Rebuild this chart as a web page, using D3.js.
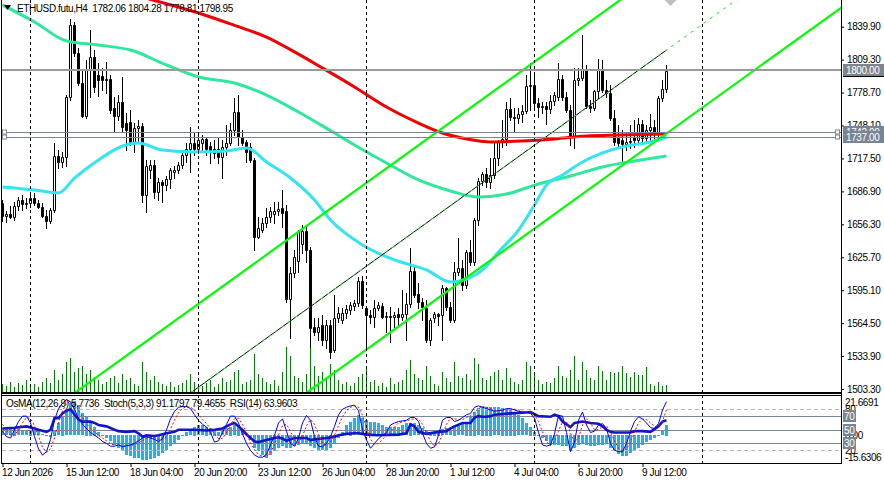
<!DOCTYPE html>
<html>
<head>
<meta charset="utf-8">
<script src="https://cdn.jsdelivr.net/npm/d3@7"></script>
<style>
  body { margin: 0; background: #fff; }
  svg text { font-family: "Liberation Sans", Arial, sans-serif; font-size: 10px; letter-spacing: -0.4px; fill: #000; white-space: pre; }
</style>
</head>
<body>
<div id="chart"></div>
<script>
// ETHUSD.futu H4 candles (bar 0 = 12 Jun 20:00)
const opens = [1676.1,1664.0,1665.9,1663.1,1673.3,1678.9,1675.2,1675.8,1680.8,1676.1,1672.4,1664.0,1659.4,1669.6,1719.8,1714.2,1718.8,1774.6,1841.5,1815.5,
  1787.6,1756.9,1800.6,1811.7,1795.0,1794.1,1790.4,1791.3,1764.4,1756.9,1769.9,1750.4,1751.4,1732.8,1745.8,1747.6,1683.5,1706.8,1711.4,1686.3,
  1695.6,1692.8,1698.4,1704.9,1706.8,1711.4,1720.7,1726.3,1731.9,1726.3,1731.5,1735.6,1729.1,1726.3,1726.3,1718.8,1728.1,1731.9,1743.9,1760.7,
  1737.4,1732.8,1728.1,1716.1,1644.5,1651.0,1657.5,1663.1,1665.9,1668.7,1671.5,1668.7,1586.9,1611.1,1622.0,1638.0,1650.1,1632.4,1560.9,1556.3,
  1562.8,1548.8,1562.8,1539.5,1569.3,1567.4,1573.9,1576.7,1580.4,1583.2,1603.7,1578.6,1572.1,1570.2,1578.6,1580.4,1570.2,1570.7,1570.2,1573.0,
  1570.2,1573.0,1582.3,1612.9,1591.6,1584.1,1578.6,1548.8,1569.3,1573.0,1572.1,1597.1,1579.5,1567.4,1612.0,1615.7,1599.9,1630.6,1621.3,1660.3,
  1696.6,1703.0,1695.6,1702.1,1717.9,1732.8,1735.6,1763.4,1756.0,1755.1,1758.8,1761.6,1784.8,1785.7,1769.0,1765.3,1766.2,1763.4,1770.9,1774.6,
  1791.3,1774.6,1762.5,1737.4,1790.4,1792.2,1800.6,1766.2,1764.4,1780.2,1800.6,1781.1,1778.3,1755.1,1736.5,1734.6,1730.9,1732.8,1737.4,1734.6,
  1749.5,1736.5,1743.9,1746.7,1741.1,1773.7,1782.06];
const highs = [1678.9,1668.7,1673.3,1677.0,1681.7,1683.5,1680.8,1685.4,1685.4,1678.9,1676.1,1669.6,1671.5,1731.9,1725.3,1723.5,1776.4,1847.0,1844.3,1820.1,
  1799.7,1809.0,1836.8,1818.2,1806.2,1801.5,1807.1,1795.0,1774.6,1776.4,1793.2,1759.7,1762.5,1750.4,1753.2,1750.4,1716.1,1716.1,1716.1,1699.3,
  1697.5,1701.2,1708.6,1710.5,1714.2,1725.3,1731.9,1746.7,1741.1,1741.1,1739.3,1736.5,1732.8,1734.6,1736.5,1734.6,1748.6,1750.4,1773.7,1776.4,
  1743.9,1734.6,1731.9,1717.9,1663.1,1662.2,1671.5,1672.4,1677.0,1677.0,1688.2,1674.3,1616.7,1632.4,1651.0,1655.7,1653.8,1635.2,1569.3,1569.3,
  1572.1,1567.4,1567.4,1590.6,1579.5,1578.6,1581.4,1584.1,1586.0,1607.4,1608.3,1580.4,1576.7,1586.0,1584.1,1583.2,1574.9,1579.5,1574.9,1578.6,
  1595.3,1592.5,1634.3,1616.7,1601.8,1587.9,1586.0,1569.3,1574.9,1573.9,1599.9,1598.0,1584.1,1621.3,1643.6,1623.2,1632.4,1641.7,1662.2,1699.3,
  1704.9,1708.6,1717.9,1731.9,1734.6,1753.2,1769.9,1773.7,1764.4,1764.4,1767.2,1795.0,1806.2,1796.9,1773.7,1769.9,1769.9,1776.4,1779.2,1806.2,
  1795.0,1779.2,1767.2,1801.5,1801.5,1832.2,1804.3,1771.8,1781.1,1809.9,1809.0,1790.4,1785.7,1762.5,1748.6,1743.9,1742.1,1748.6,1753.2,1755.1,
  1753.2,1748.6,1758.8,1753.2,1775.5,1790.4,1804.28];
const lows = [1659.4,1658.5,1662.2,1660.3,1669.6,1669.6,1671.5,1672.4,1674.3,1671.5,1663.1,1652.9,1657.5,1667.7,1708.6,1709.6,1710.5,1771.8,1812.7,1785.7,
  1756.0,1755.1,1774.6,1779.2,1775.5,1781.1,1778.3,1759.7,1742.1,1753.2,1742.1,1725.3,1730.0,1723.5,1733.7,1677.0,1667.7,1699.3,1680.8,1678.9,
  1677.0,1688.2,1690.0,1699.3,1704.0,1708.6,1714.2,1704.9,1720.7,1722.6,1725.3,1720.7,1713.3,1717.9,1713.3,1699.3,1720.7,1730.0,1739.3,1730.0,
  1730.0,1714.2,1714.2,1632.4,1643.6,1649.2,1653.8,1658.5,1657.5,1665.0,1653.8,1584.1,1550.7,1607.4,1612.0,1629.7,1621.3,1542.3,1553.5,1548.8,
  1544.2,1541.4,1532.1,1537.7,1565.6,1564.6,1569.3,1573.0,1576.7,1580.4,1578.6,1541.4,1564.6,1560.9,1576.7,1569.3,1556.3,1547.0,1560.9,1562.8,
  1567.4,1548.8,1579.5,1588.8,1578.6,1567.4,1547.0,1544.2,1565.6,1562.8,1548.8,1576.7,1565.6,1565.6,1609.2,1595.3,1597.1,1618.5,1618.5,1655.7,
  1692.8,1691.0,1690.0,1699.3,1711.4,1728.1,1730.0,1753.2,1742.1,1750.4,1751.4,1759.7,1762.5,1764.4,1756.0,1759.7,1749.5,1759.7,1767.2,1771.8,
  1771.8,1760.7,1730.0,1727.2,1785.7,1790.4,1764.4,1760.7,1762.5,1773.7,1779.2,1774.6,1753.2,1730.0,1727.2,1714.2,1725.3,1727.2,1728.1,1732.8,
  1731.9,1732.8,1733.7,1734.6,1737.4,1770.9,1778.81];
const closes = [1664.0,1665.9,1663.1,1673.3,1678.9,1675.2,1675.8,1680.8,1676.1,1672.4,1664.0,1659.4,1669.6,1719.8,1714.2,1718.8,1774.6,1841.5,1815.5,1787.6,
  1756.9,1800.6,1811.7,1783.9,1790.4,1790.4,1791.3,1762.5,1756.9,1769.9,1746.7,1743.9,1732.8,1745.8,1747.6,1683.5,1710.5,1711.4,1686.3,1695.6,
  1692.8,1698.4,1706.8,1706.8,1711.4,1720.7,1726.3,1731.9,1726.3,1734.6,1735.6,1726.3,1723.5,1722.6,1718.8,1728.1,1731.9,1743.9,1760.7,1737.4,
  1731.9,1723.5,1716.1,1644.5,1652.9,1657.5,1663.1,1668.7,1668.7,1670.5,1666.8,1586.9,1611.1,1625.9,1649.2,1650.1,1632.4,1560.0,1556.3,1560.9,
  1548.8,1562.8,1537.7,1569.3,1573.9,1573.9,1577.6,1581.4,1583.2,1603.7,1581.4,1572.1,1570.2,1578.6,1581.4,1570.2,1570.7,1570.2,1572.1,1570.2,
  1573.0,1582.3,1612.9,1590.6,1584.1,1579.5,1548.8,1567.4,1573.0,1571.1,1597.1,1579.5,1567.4,1612.0,1615.7,1599.9,1630.6,1621.3,1660.3,1696.6,
  1703.0,1695.6,1702.1,1717.9,1732.8,1735.6,1763.4,1756.0,1755.1,1758.8,1761.6,1784.8,1785.7,1769.0,1765.3,1766.2,1763.4,1770.9,1776.4,1791.3,
  1774.6,1762.5,1737.4,1790.4,1792.2,1800.6,1766.2,1764.4,1780.2,1800.6,1781.1,1778.3,1755.1,1732.8,1731.9,1730.9,1732.8,1733.7,1734.6,1749.5,
  1736.5,1743.9,1746.7,1741.1,1773.7,1782.0,1798.95];
const volumes = [200,150,250,125,225,175,300,150,200,125,250,350,225,550,300,450,750,850,500,600,
  650,450,550,375,300,200,250,350,400,225,450,300,350,200,150,750,500,300,400,250,
  200,150,250,125,175,225,300,450,250,200,150,225,300,125,200,350,250,300,500,550,
  200,250,300,950,450,350,250,200,300,150,500,1125,900,400,350,250,450,1100,650,400,
  500,350,700,550,300,200,250,150,225,375,450,600,250,300,150,225,125,350,200,250,
  300,550,800,450,350,300,650,400,200,150,500,350,250,750,400,350,450,300,850,700,
  350,300,400,500,550,300,600,350,250,200,300,750,650,450,300,200,250,225,350,650,
  400,350,550,900,300,750,550,350,300,650,525,300,500,475,500,650,475,375,500,425,
  425,625,200,150,250,150,175];

// moving averages, [bar, price]
const redMA = [[30,1872.0],[38,1864.3],[49,1852.6],[58,1841.1],[66,1830.3],[74,1814.4],[80,1801.5],[88,1783.9],[96,1765.3],[104,1750.4],
  [110,1741.1],[116,1735.6],[122,1732.8],[130,1733.7],[138,1735.6],[146,1738.4],[154,1739.3],[166,1740.2]];
const greenMA = [[0,1860.1],[8,1844.3],[16,1826.6],[24,1822.9],[32,1818.2],[41,1804.3],[49,1793.2],[58,1787.6],[66,1776.4],[74,1760.7],
  [83,1741.1],[88,1730.0],[96,1713.3],[104,1697.5],[112,1687.3],[119,1681.7],[126,1684.5],[134,1693.8],[142,1701.2],[150,1709.6],[158,1715.1],[166,1719.8]];
const cyanMA = [[0,1691.0],[8,1688.2],[14,1685.4],[18,1699.3],[24,1716.1],[30,1729.1],[34,1731.9],[40,1725.3],[48,1723.5],[56,1724.4],
  [61,1727.2],[66,1714.2],[72,1699.3],[78,1678.9],[82,1660.3],[90,1637.1],[98,1623.2],[106,1613.9],[112,1602.7],[116,1605.5],[120,1613.9],
  [124,1630.6],[129,1651.0],[133,1674.3],[136,1692.8],[140,1702.1],[145,1714.2],[150,1722.6],[156,1729.1],[162,1732.8],[166,1737.4]];

// equidistant channel: two anchor bars, upper and lower price at each
const channelBars = [20, 166];
const channelUpper = [1504.9, 1895.7];
const channelLower = [1349.9, 1740.7];

const levelLines = [1742.00, 1737.00];
const roundLevel = 1800.00;
const lastClose = 1798.95;

const priceTicks = [1503.30,1533.90,1564.50,1595.10,1625.70,1656.30,1686.90,1717.50,1748.10,1778.70,1809.30,1839.90];
const timeBars = [0,16,32,48,64,80,96,112,128,144,160];
const timeLabels = ["12 Jun 2026","15 Jun 12:00","18 Jun 04:00","20 Jun 20:00","23 Jun 12:00","26 Jun 04:00","28 Jun 20:00","1 Jul 12:00","4 Jul 04:00","6 Jul 20:00","9 Jul 12:00"];
const gridBars = [7,49,91,133,175];

// OsMA(12,26,9) histogram, one value per bar
const osma = [3.8,3.8,3.5,3.6,3.4,2.9,2.9,3.0,2.8,2.4,0.5,-0.8,-1.2,2.5,6.5,10.2,13.8,17.5,18.5,16.5,
  12.0,10.2,7.5,4.7,2.0,0.2,-1.6,-3.5,-5.3,-7.1,-8.9,-10.7,-11.6,-12.5,-12.5,-13.5,-13.5,-13.1,-12.5,-11.6,
  -9.8,-8.0,-5.8,-4.4,-2.5,-0.7,2.0,2.9,4.7,5.6,5.6,4.7,3.8,2.5,2.0,2.9,3.8,4.7,5.6,4.7,
  2.9,1.1,-2.5,-7.1,-8.9,-10.7,-12.5,-10.7,-8.9,-7.1,-6.2,-7.1,-7.1,-6.2,-5.3,-4.4,-4.4,-6.2,-7.1,-8.0,
  -8.0,-8.0,-7.1,-4.4,-1.6,2.0,5.6,7.5,9.3,11.1,9.3,8.4,7.5,7.5,6.5,5.6,4.7,4.7,4.7,4.7,
  5.6,6.5,6.9,6.5,5.6,3.8,2.9,2.0,2.0,2.5,3.3,3.8,2.9,4.7,5.6,6.5,7.5,10.2,12.9,14.7,
  15.6,15.6,15.6,15.4,15.2,15.0,14.6,14.0,12.9,11.1,9.3,6.5,4.7,2.0,0.2,-1.6,-3.5,-5.3,-5.3,-5.3,
  -5.8,-6.2,-8.0,-7.1,-5.3,-4.4,-5.3,-5.8,-5.8,-5.3,-5.3,-4.4,-7.1,-8.9,-10.2,-11.3,-11.6,-9.8,-8.4,-7.1,
  -5.3,-4.0,-2.9,-1.6,0.2,2.9,5.77];

// Stoch(5,3,3) main and signal, RSI(14): [bar, value]
const stochK = [[0,48],[1,40],[2,38],[3,50],[4,62],[5,70],[6,70],[7,60],[8,40],[9,22],[10,13],[11,18],[12,36],[13,64],[14,81],[15,89],[16,94],[17,91],[18,80],[19,66],
  [20,58],[21,52],[22,46],[23,42],[24,38],[25,33],[26,30],[27,26],[28,26],[29,28],[30,25],[31,27],[32,28],[33,30],[34,34],[35,38],[36,40],[37,38],[38,36],[39,33],
  [40,37],[41,50],[42,66],[43,77],[44,83],[45,84],[46,84],[47,81],[48,72],[49,64],[50,58],[51,54],[52,46],[53,32],[54,34],[55,46],[56,58],[57,70],[58,70],[59,60],
  [60,44],[61,30],[62,20],[63,13],[64,10],[65,10],[66,14],[67,28],[68,42],[69,60],[70,66],[71,48],[72,30],[73,26],[74,38],[75,60],[76,71],[77,64],[78,40],[79,26],
  [80,25],[81,30],[82,40],[83,55],[84,72],[85,80],[86,83],[87,85],[88,86],[89,78],[90,50],[91,35],[92,23],[93,30],[94,37],[95,42],[96,46],[97,57],[98,60],[99,62],
  [100,63],[101,64],[102,68],[103,68],[104,62],[105,45],[106,30],[107,23],[108,25],[109,42],[110,64],[111,68],[112,68],[113,62],[114,64],[115,68],[116,72],[117,74],[118,83],[119,85],
  [120,83],[121,81],[122,79],[123,77],[124,78],[125,79],[126,81],[127,81],[128,79],[129,77],[130,76],[131,75],[132,74],[133,67],[134,46],[135,28],[136,26],[137,28],[138,44],[139,71],
  [140,70],[141,46],[142,18],[143,32],[144,64],[145,76],[146,57],[147,46],[148,48],[149,57],[150,59],[151,52],[152,30],[153,20],[154,18],[155,18],[156,30],[157,48],[158,62],[159,69],
  [160,66],[161,60],[162,53],[163,52],[164,59],[165,79],[166,91.18]];
const stochD = [[0,58],[1,50],[2,42],[3,42],[4,50],[5,60],[6,68],[7,66],[8,56],[9,40],[10,25],[11,17],[12,22],[13,38],[14,60],[15,78],[16,88],[17,92],[18,88],[19,79],
  [20,68],[21,59],[22,52],[23,47],[24,42],[25,38],[26,34],[27,30],[28,27],[29,27],[30,26],[31,26],[32,27],[33,28],[34,31],[35,34],[36,38],[37,39],[38,38],[39,36],
  [40,35],[41,40],[42,51],[43,64],[44,75],[45,81],[46,84],[47,83],[48,79],[49,72],[50,65],[51,59],[52,52],[53,44],[54,37],[55,37],[56,46],[57,58],[58,66],[59,67],
  [60,58],[61,45],[62,31],[63,21],[64,14],[65,11],[66,11],[67,17],[68,28],[69,43],[70,56],[71,58],[72,48],[73,35],[74,31],[75,41],[76,56],[77,65],[78,58],[79,43],
  [80,30],[81,27],[82,32],[83,42],[84,56],[85,69],[86,78],[87,83],[88,85],[89,83],[90,71],[91,54],[92,36],[93,29],[94,30],[95,36],[96,42],[97,48],[98,54],[99,60],
  [100,62],[101,63],[102,65],[103,66],[104,66],[105,58],[106,46],[107,33],[108,26],[109,30],[110,44],[111,58],[112,67],[113,66],[114,65],[115,65],[116,68],[117,71],[118,76],[119,81],
  [120,84],[121,83],[122,81],[123,79],[124,78],[125,78],[126,79],[127,80],[128,80],[129,79],[130,77],[131,76],[132,75],[133,72],[134,62],[135,47],[136,33],[137,27],[138,33],[139,48],
  [140,62],[141,62],[142,45],[143,32],[144,38],[145,57],[146,66],[147,60],[148,50],[149,50],[150,55],[151,56],[152,47],[153,34],[154,23],[155,19],[156,22],[157,32],[158,47],[159,60],
  [160,66],[161,65],[162,60],[163,55],[164,55],[165,63],[166,79.47]];
const rsi = [[0,52],[3,53],[6,55],[8,52],[9,50],[11,47],[12,50],[13,67],[14,67],[15,74],[16,78],[17,80],[18,72],[19,65],[20,62],[22,62],[23,60],[24,57],[26,55],[28,50],
  [29,48],[31,47],[33,48],[34,45],[35,40],[36,42],[38,41],[39,42],[41,45],[43,47],[44,50],[48,50],[51,49],[53,50],[55,52],[56,55],[57,58],[58,60],[59,55],[60,50],
  [61,43],[62,38],[63,33],[64,32],[66,35],[68,38],[69,39],[70,37],[71,34],[72,36],[73,38],[76,38],[77,35],[78,36],[81,38],[83,40],[84,42],[86,44],[88,45],[89,45],
  [90,44],[91,43],[94,42],[99,43],[101,45],[102,58],[103,55],[104,47],[106,44],[109,47],[111,48],[112,52],[113,55],[115,60],[117,60],[118,68],[119,70],[120,69],[121,69],[122,70],
  [123,72],[127,74],[130,75],[132,76],[133,73],[134,70],[137,69],[138,72],[139,70],[140,62],[142,54],[143,60],[145,62],[147,60],[149,59],[150,55],[151,50],[152,47],[153,46],[157,46],
  [158,48],[160,48],[162,47],[163,51],[164,55],[165,62],[166,63.96]];
const rsiLevels = [70, 50, 30];
const stochLevels = [80, 20];
const osmaRange = [-15.6306, 21.6691];

const width = 884, height = 484;
const plotLeft = 2, plotRight = 841;
const mainBottom = 392, subTop = 395, subBottom = 464;

let svg = d3.select("#chart")
    .append("svg")
    .attr("width", width)
    .attr("height", height);

// one bar = 4px
let x = d3.scaleLinear().domain([0, 1]).range([2.5, 6.5]);
let y = d3.scaleLinear().domain([1503.3, 1839.9]).range([389, 26.7]);
let yVol = d3.scaleLinear().domain([0, 2500]).range([mainBottom, mainBottom - 100]);
let yPct = d3.scaleLinear().domain([0, 100]).range([subBottom, 395.6]);
let yOsma = d3.scaleLinear().domain(osmaRange).range([subBottom, 395.6]);

const crisp = v => Math.round(v) + 0.5;

let defs = svg.append("defs");
defs.append("clipPath").attr("id", "clipMain").append("rect")
    .attr("x", plotLeft).attr("y", 0).attr("width", plotRight - plotLeft).attr("height", mainBottom);
defs.append("clipPath").attr("id", "clipSub").append("rect")
    .attr("x", plotLeft).attr("y", subTop).attr("width", plotRight - plotLeft).attr("height", subBottom - subTop);

let main = svg.append("g").attr("clip-path", "url(#clipMain)");
let sub = svg.append("g").attr("clip-path", "url(#clipSub)");

// weekly dashed grid
gridBars.forEach(b => {
    [[0, mainBottom], [subTop, subBottom]].forEach(([a, z]) => {
        svg.append("line")
            .attr("x1", x(b)).attr("x2", x(b)).attr("y1", a).attr("y2", z)
            .attr("stroke", "#000").attr("stroke-dasharray", "3,3");
    });
});

// tick volumes
main.selectAll("line.vol").data(volumes).enter()
    .append("line").attr("class", "vol")
    .attr("x1", (d, i) => x(i)).attr("x2", (d, i) => x(i))
    .attr("y1", mainBottom).attr("y2", d => Math.round(yVol(d)))
    .attr("stroke", "#008000");

// candles
let candles = main.selectAll("g.candle").data(opens).enter().append("g").attr("class", "candle");
candles.append("line")
    .attr("x1", (d, i) => x(i)).attr("x2", (d, i) => x(i))
    .attr("y1", (d, i) => Math.round(y(highs[i]))).attr("y2", (d, i) => Math.round(y(lows[i])) + 1)
    .attr("stroke", "#000");
candles.append("path")
    .attr("d", (d, i) => {
        let t = Math.round(y(Math.max(d, closes[i]))), b = Math.round(y(Math.min(d, closes[i])));
        if (b <= t) b = t;
        let l = x(i) - 1;
        return `M${l},${t + 0.5}h2v${b - t}h-2z`;
    })
    .attr("fill", (d, i) => closes[i] >= d ? "#fff" : "#000")
    .attr("stroke", "#000");

// moving averages
let maLine = d3.line().x(d => x(d[0])).y(d => y(d[1])).curve(d3.curveMonotoneX);
[[greenMA, "#2ee89c"], [cyanMA, "#33e4f2"], [redMA, "#f00000"]].forEach(([data, col]) => {
    main.append("path").attr("d", maLine(data))
        .attr("fill", "none").attr("stroke", col).attr("stroke-width", 3);
});

// channel
const chanSlope = (channelUpper[1] - channelUpper[0]) / (channelBars[1] - channelBars[0]);
const chanAt = (p0, b) => p0 + chanSlope * (b - channelBars[0]);
const chanMid0 = (channelUpper[0] + channelLower[0]) / 2;
let seg = (p0, b0, b1) => [[x(b0), y(chanAt(p0, b0))], [x(b1), y(chanAt(p0, b1))]];
let straight = d3.line();
main.append("path").attr("d", straight(seg(chanMid0, 0, 166)))
    .attr("stroke", "#000").attr("stroke-width", 1).attr("fill", "none");
main.append("path").attr("d", straight(seg(chanMid0, 0, 215)))
    .attr("stroke", "#00ff00").attr("stroke-width", 1).attr("stroke-dasharray", "3,5").attr("fill", "none");
[channelUpper[0], channelLower[0]].forEach(p0 => {
    main.append("path").attr("d", straight(seg(p0, 0, 215)))
        .attr("stroke", "#00ff00").attr("stroke-width", 2.2).attr("fill", "none");
});

// horizontal lines
main.append("line")
    .attr("x1", plotLeft).attr("x2", plotRight)
    .attr("y1", Math.round(y(roundLevel))).attr("y2", Math.round(y(roundLevel)))
    .attr("stroke", "#9a9a9a").attr("stroke-width", 2);
levelLines.forEach(p => {
    main.append("line")
        .attr("x1", plotLeft).attr("x2", plotRight)
        .attr("y1", crisp(y(p))).attr("y2", crisp(y(p)))
        .attr("stroke", "#7a8696");
    [plotLeft + 0.5, plotRight - 5.5].forEach(hx => {
        main.append("rect").attr("x", hx).attr("y", crisp(y(p)) - 2.5)
            .attr("width", 4).attr("height", 4)
            .attr("fill", "#fff").attr("stroke", "#7a8696");
    });
});

// chart shift marker
main.append("path")
    .attr("d", `M${x(167) - 6},0L${x(167) + 6},0L${x(167)},6Z`)
    .attr("fill", "#c0c0c0");

// oscillators
sub.selectAll("rect.osma").data(osma).enter()
    .append("rect").attr("class", "osma")
    .attr("x", (d, i) => x(i) - 1.5).attr("width", 3)
    .attr("y", d => Math.round(Math.min(yOsma(d), yOsma(0))))
    .attr("height", d => Math.max(1, Math.round(Math.abs(yOsma(d) - yOsma(0)))))
    .attr("fill", "#22b0ee");

stochLevels.forEach(v => {
    sub.append("line").attr("x1", plotLeft).attr("x2", plotRight)
        .attr("y1", crisp(yPct(v))).attr("y2", crisp(yPct(v)))
        .attr("stroke", "#b8b8b8").attr("stroke-dasharray", "4,3");
});
rsiLevels.forEach(v => {
    sub.append("line").attr("x1", plotLeft).attr("x2", plotRight)
        .attr("y1", crisp(yPct(v))).attr("y2", crisp(yPct(v)))
        .attr("stroke", "#7a8696");
});

let pctLine = d3.line().x(d => x(d[0])).y(d => yPct(d[1]));
sub.append("path").attr("d", pctLine(rsi))
    .attr("fill", "none").attr("stroke", "#1515c8").attr("stroke-width", 2.6);
sub.append("path").attr("d", pctLine(stochD))
    .attr("fill", "none").attr("stroke", "#ff0000").attr("stroke-width", 1).attr("stroke-dasharray", "2,2");
sub.append("path").attr("d", pctLine(stochK))
    .attr("fill", "none").attr("stroke", "#0000ff").attr("stroke-width", 1);

// frames
svg.append("line").attr("x1", 1.5).attr("x2", 1.5).attr("y1", 0).attr("y2", subBottom).attr("stroke", "#000");
svg.append("line").attr("x1", plotRight + 0.5).attr("x2", plotRight + 0.5).attr("y1", 0).attr("y2", subBottom).attr("stroke", "#000");
svg.append("line").attr("x1", 1).attr("x2", plotRight + 1).attr("y1", mainBottom + 1).attr("y2", mainBottom + 1).attr("stroke", "#000").attr("stroke-width", 2);
svg.append("line").attr("x1", 1).attr("x2", plotRight + 1).attr("y1", subTop + 0.5).attr("y2", subTop + 0.5).attr("stroke", "#000");
svg.append("line").attr("x1", 1).attr("x2", plotRight + 1).attr("y1", subBottom - 0.5).attr("y2", subBottom - 0.5).attr("stroke", "#000");

// price axis
let yAxis = svg.append("g")
    .attr("transform", `translate(${plotRight},0)`)
    .call(d3.axisRight(y).tickValues(priceTicks).tickSize(3).tickPadding(3).tickFormat(d3.format(".2f")));
yAxis.select(".domain").remove();
yAxis.selectAll("line").attr("stroke", "#000");

// price tags on the right
function tag(p, fill, label) {
    let g = svg.append("g");
    g.append("rect").attr("x", plotRight + 2).attr("y", Math.round(y(p)) - 6)
        .attr("width", width - plotRight - 2).attr("height", 12).attr("fill", fill);
    if (label) g.append("text").attr("x", plotRight + 5).attr("y", Math.round(y(p)) + 4)
        .style("fill", "#fff").text(label);
}
tag(lastClose, "#000", null);
tag(roundLevel, "#7f858c", d3.format(".2f")(roundLevel));
levelLines.forEach(p => tag(p, "#778594", d3.format(".2f")(p)));

// time axis
let xAxis = svg.append("g")
    .attr("transform", `translate(0,${subBottom})`)
    .call(d3.axisBottom(x).tickValues(timeBars).tickSize(3).tickPadding(2).tickFormat((d, i) => timeLabels[i]));
xAxis.select(".domain").remove();
xAxis.selectAll("text").attr("text-anchor", "start").attr("dx", "-0.1em");
xAxis.selectAll("line").attr("stroke", "#000");

// oscillator scale labels
let subLabels = svg.append("g");
subLabels.append("text").attr("x", 845).attr("y", yOsma(osmaRange[1]) + 10).text("21.6691");
subLabels.append("text").attr("x", 845).attr("y", yOsma(osmaRange[0]) - 3).text("-15.6306");
subLabels.append("text").attr("x", 845).attr("y", yOsma(0) + 4).text("0.00");
stochLevels.forEach(v => subLabels.append("text").attr("x", 845).attr("y", yPct(v) + 4).text(v));
rsiLevels.forEach(v => {
    subLabels.append("rect").attr("x", 843).attr("y", Math.round(yPct(v)) - 6)
        .attr("width", 13).attr("height", 12).attr("fill", "#778594");
    subLabels.append("text").attr("x", 844).attr("y", Math.round(yPct(v)) + 4)
        .style("fill", "#fff").text(v);
});

// headers
svg.append("path").attr("d", "M4,5L11,5L7.5,10Z").attr("fill", "#000");
svg.append("text").attr("x", 17).attr("y", 12)
    .text("ETHUSD.futu,H4  " + [opens[166], highs[166], lows[166], closes[166]].map(d3.format(".2f")).join(" "));
svg.append("text").attr("x", 6).attr("y", 407)
    .text("OsMA(12,26,9) 5.7736  Stoch(5,3,3) 91.1797 79.4655  RSI(14) 63.9603");
</script>
</body>
</html>
